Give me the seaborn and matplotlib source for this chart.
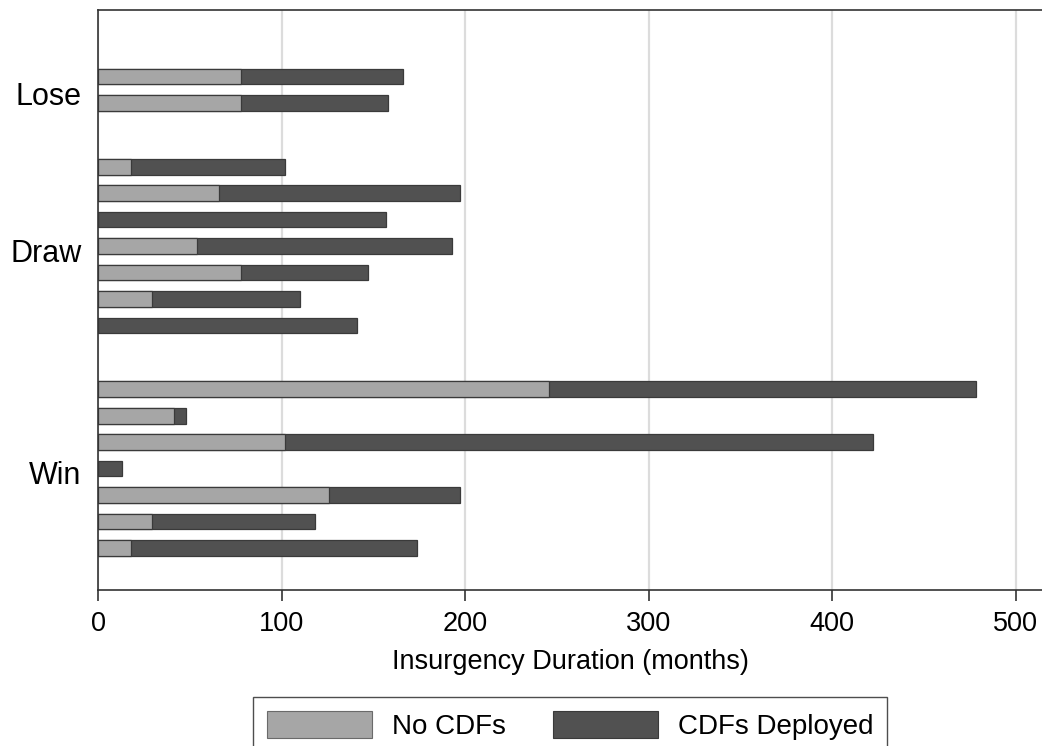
import matplotlib
matplotlib.use("Agg")
import matplotlib.pyplot as plt
from matplotlib.patches import Patch
import matplotlib.transforms as mtransforms
import numpy as np
import pandas as pd
import seaborn as sns

# ---- data ----
outcomes = ["Lose", "Draw", "Win"]
bar_outcome = ["Lose", "Lose",
               "Draw", "Draw", "Draw", "Draw", "Draw", "Draw", "Draw",
               "Win", "Win", "Win", "Win", "Win", "Win", "Win"]
no_cdfs = [78, 78, 18, 66, 0, 54, 78, 29.5, 0, 245.5, 41.5, 102, 0, 126, 29.5, 18]
cdfs_deployed = [88, 80, 84, 131, 157, 139, 69, 80.5, 141, 232.5, 6.5, 320, 13, 71, 88.5, 156]
x_ticks = [0, 100, 200, 300, 400, 500]
series_names = ["No CDFs", "CDFs Deployed"]

# ---- layout ----
sns.set_theme(style="white")
plt.rcParams["font.family"] = ["Liberation Sans", "DejaVu Sans"]
plt.rcParams["text.color"] = "black"
plt.rcParams["axes.labelcolor"] = "black"
plt.rcParams["xtick.color"] = "black"
plt.rcParams["ytick.color"] = "black"

LIGHT = "#a6a6a6"
DARK = "#515151"
EDGE = "#3a3a3a"

GROUP_GAP = 2.4  # distance (slots) between last bar of a group and first of next
positions = []
pos = 0.0
prev = None
for g in bar_outcome:
    if prev is not None:
        pos += 1.0 if g == prev else GROUP_GAP
    positions.append(pos)
    prev = g

df = pd.DataFrame({
    "outcome": bar_outcome,
    "pos": positions,
    "no": no_cdfs,
    "yes": cdfs_deployed,
})
df["total"] = df["no"] + df["yes"]

fig = plt.figure(figsize=(10.42, 7.46), dpi=100)
ax = fig.add_axes([98 / 1042, 1 - 590 / 746, (1042 - 98) / 1042, 580 / 746])

sns.barplot(data=df, x="total", y="pos", orient="h", native_scale=True,
            color=DARK, saturation=1, width=0.6, errorbar=None,
            edgecolor=EDGE, linewidth=0.9, ax=ax)
sns.barplot(data=df, x="no", y="pos", orient="h", native_scale=True,
            color=LIGHT, saturation=1, width=0.6, errorbar=None,
            edgecolor=EDGE, linewidth=0.9, ax=ax)

# group label positions
centers = [df.loc[df["outcome"] == o, "pos"].mean() for o in outcomes]
ax.set_yticks(centers)
ax.set_yticklabels(outcomes, fontsize=22, color="black")
ax.tick_params(axis="y", length=0, pad=12)
offset = mtransforms.ScaledTranslation(0, -4 / 100, fig.dpi_scale_trans)
for lbl in ax.get_yticklabels():
    lbl.set_transform(lbl.get_transform() + offset)

ax.set_ylim(positions[-1] + 1.585, -2.51)
ax.set_xlim(0, 514.2)
ax.set_xticks(x_ticks)
ax.set_xticklabels([str(t) for t in x_ticks], fontsize=19.5, color="black")
ax.tick_params(axis="x", length=8, width=1.1, pad=7, color="#222222", direction="out",
               bottom=True)
ax.set_xlabel("Insurgency Duration (months)", fontsize=19.5, labelpad=9, color="black")
ax.set_ylabel("")

ax.xaxis.grid(True, color="#dcdcdc", linewidth=1.6)
ax.yaxis.grid(False)
ax.set_axisbelow(True)

for side in ["left", "bottom", "top"]:
    ax.spines[side].set_visible(True)
    ax.spines[side].set_color("#333333")
    ax.spines[side].set_linewidth(1.2)
ax.spines["right"].set_visible(False)

handles = [Patch(facecolor=LIGHT, edgecolor="#6a6a6a", linewidth=0.8, label=series_names[0]),
           Patch(facecolor=DARK, edgecolor="#3a3a3a", linewidth=0.8, label=series_names[1])]
leg = fig.legend(handles=handles, loc="upper center",
                 bbox_to_anchor=(570 / 1042, 1 - 697 / 746),
                 ncol=2, fontsize=20, frameon=True, fancybox=False,
                 handlelength=3.8, handleheight=1.1, handletextpad=0.7,
                 columnspacing=1.7, borderpad=0.5, borderaxespad=0,
                 labelcolor="black")
leg.get_frame().set_edgecolor("#222222")
leg.get_frame().set_linewidth(1.0)

fig.savefig("out.png", dpi=100)
